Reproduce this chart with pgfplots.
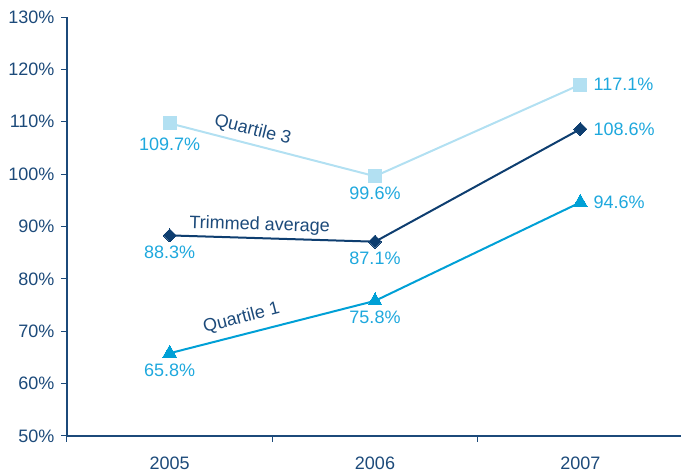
\documentclass[border=0pt]{standalone}
\usepackage{pgfplots}
\pgfplotsset{compat=1.18}
\usepackage{fontspec}
\setmainfont{Liberation Sans}

\definecolor{navy}{RGB}{28,74,122}
\definecolor{trimline}{RGB}{14,62,112}
\definecolor{qone}{RGB}{0,160,214}
\definecolor{qthree}{RGB}{178,224,242}
\definecolor{lblcol}{RGB}{30,168,221}

\pgfplotsset{
  vallabels/.style={
    point meta=y,
    nodes near coords={\pgfmathprintnumber[fixed,precision=1,fixed zerofill]{\pgfplotspointmeta}\%},
    every node near coord/.append style={font=\fontsize{18}{21}\selectfont, text=lblcol},
    coordinate style/.condition={x<1.5}{anchor=north, yshift=-7pt},
    coordinate style/.condition={x>1.5}{anchor=west, xshift=10pt},
  },
}

\begin{document}
\begin{tikzpicture}
\begin{axis}[
  scale only axis, width=616pt, height=419pt,
  xmin=-0.5, xmax=2.5, ymin=50, ymax=130,
  axis x line*=bottom, axis y line*=left,
  axis line style={-, draw=navy, line width=1.1pt},
  xtick={-0.5,0.5,1.5,2.5},
  x tick label as interval,
  xticklabels={2005,2006,2007},
  ytick={50,60,...,130},
  yticklabel={\pgfmathprintnumber{\tick}\%},
  /pgf/number format/assume math mode=true,
  tick align=outside,
  major tick length=6pt,
  tick style={draw=navy, line width=1pt},
  ticklabel style={font=\fontsize{18}{21}\selectfont, text=navy},
  xticklabel style={yshift=-11pt},
  yticklabel style={xshift=-3pt},
  clip=false,
]
% Quartile 3
\addplot[qthree, line width=2pt, mark=square*, mark size=6.5pt, mark options={fill=qthree, draw=qthree, line width=0pt}, vallabels,
  coordinate style/.condition={x<0.5}{yshift=-4pt}]
  coordinates {(0,109.7) (1,99.6) (2,117.1)};
% Trimmed average (square turned by 45 degrees)
\addplot[trimline, line width=2pt, mark=square*, mark size=4.6pt, mark options={rotate=45, fill=trimline, draw=trimline, line width=0pt}, vallabels]
  coordinates {(0,88.3) (1,87.1) (2,108.6)};
% Quartile 1
\addplot[qone, line width=2pt, mark=triangle*, mark size=8pt, mark options={fill=qone, draw=qone, line width=0pt}, vallabels]
  coordinates {(0,65.8) (1,75.8) (2,94.6)};

\node[rotate=-14.2, text=navy, font=\fontsize{18}{21}\selectfont] at (axis cs:0.404,108.4) {Quartile 3};
\node[rotate=-1.7, text=navy, font=\fontsize{18}{21}\selectfont] at (axis cs:0.438,90.2) {Trimmed average};
\node[rotate=14.5, text=navy, font=\fontsize{18}{21}\selectfont] at (axis cs:0.35,72.5) {Quartile 1};
\end{axis}
\pgfresetboundingbox
\path[use as bounding box] (current axis.south west) ++(-67pt,-38pt) rectangle ++(681pt,474pt);
\end{tikzpicture}
\end{document}
